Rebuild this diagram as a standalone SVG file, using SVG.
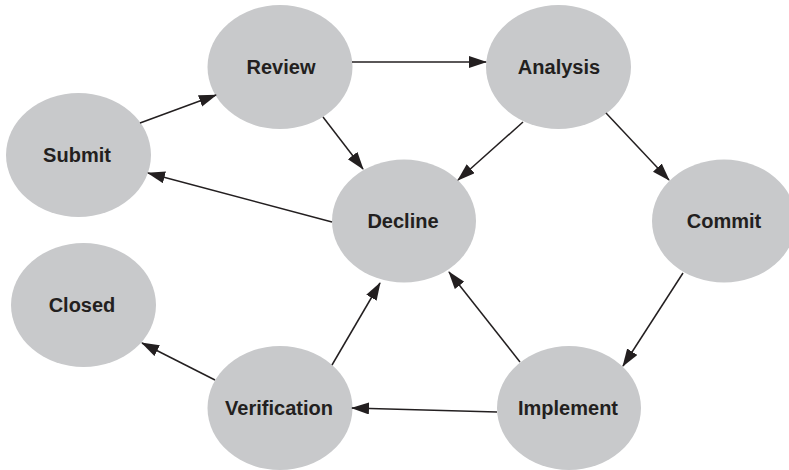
<svg xmlns="http://www.w3.org/2000/svg" width="789" height="470" viewBox="0 0 789 470">
<style>
.node{fill:#c8c9cb;}
.lbl{font-family:"Liberation Sans",Arial,sans-serif;font-weight:bold;font-size:20px;fill:#231f20;text-anchor:middle;}
.edge{stroke:#231f20;stroke-width:1.5;fill:none;marker-end:url(#arr);}
</style>
<defs>
<marker id="arr" markerUnits="userSpaceOnUse" markerWidth="20" markerHeight="14" refX="17" refY="6" orient="auto">
<path d="M0,0 L18,6 L0,12 z" fill="#231f20"/>
</marker>
</defs>
<rect width="789" height="470" fill="#ffffff"/>
<g id="review"><ellipse class="node" cx="280" cy="67" rx="72.5" ry="62"/><text class="lbl" x="281" y="74">Review</text></g>
<g id="analysis"><ellipse class="node" cx="558.5" cy="67" rx="72.5" ry="62"/><text class="lbl" x="559" y="74">Analysis</text></g>
<g id="submit"><ellipse class="node" cx="78.5" cy="155" rx="72.5" ry="62"/><text class="lbl" x="77" y="162">Submit</text></g>
<g id="decline"><ellipse class="node" cx="404" cy="221" rx="72" ry="61.5"/><text class="lbl" x="403" y="228">Decline</text></g>
<g id="commit"><ellipse class="node" cx="724" cy="221" rx="72" ry="61.5"/><text class="lbl" x="724" y="228">Commit</text></g>
<g id="closed"><ellipse class="node" cx="83.5" cy="305" rx="72.5" ry="62"/><text class="lbl" x="82" y="312">Closed</text></g>
<g id="verification"><ellipse class="node" cx="280" cy="408" rx="72.5" ry="62"/><text class="lbl" x="279" y="415">Verification</text></g>
<g id="implement"><ellipse class="node" cx="569" cy="408" rx="72" ry="62"/><text class="lbl" x="568" y="415">Implement</text></g>
<g id="connectors">
<line class="edge" x1="140" y1="123" x2="216" y2="95"/>
<line class="edge" x1="352" y1="62" x2="486" y2="62"/>
<line class="edge" x1="323" y1="117" x2="363" y2="169"/>
<line class="edge" x1="332" y1="222" x2="148" y2="173"/>
<line class="edge" x1="523" y1="122" x2="458" y2="180"/>
<line class="edge" x1="606" y1="113" x2="669" y2="180"/>
<line class="edge" x1="683" y1="273" x2="623" y2="366"/>
<line class="edge" x1="520" y1="362" x2="449" y2="272"/>
<line class="edge" x1="497" y1="412" x2="352" y2="408"/>
<line class="edge" x1="332" y1="365" x2="380" y2="283"/>
<line class="edge" x1="215" y1="380" x2="142" y2="343"/>
</g>
</svg>
